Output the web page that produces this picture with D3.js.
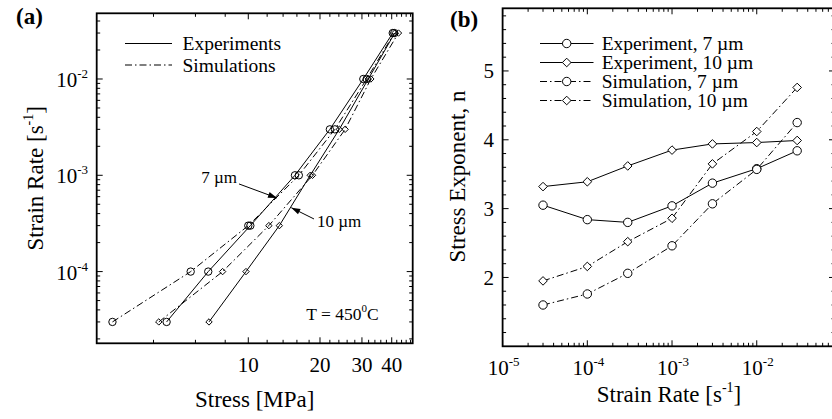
<!DOCTYPE html>
<html>
<head>
<meta charset="utf-8">
<script src="https://cdn.jsdelivr.net/npm/d3@7"></script>
<style>
  body { margin: 0; background: #fff; }
  svg { display: block; font-family: "Liberation Serif", "Times New Roman", serif; }
</style>
</head>
<body>
<svg id="chart" width="832" height="419"></svg>
<script>
// strain rates shared by both panels
const strainRates = [3e-5, 1e-4, 3e-4, 1e-3, 3e-3, 1e-2, 3e-2]

// panel (a): stress [MPa] at each strain rate
const expStress7 = [4.54, 6.79, 10.2, 15.7, 22.0, 30.4, 40.4]
const expStress10 = [6.84, 9.78, 13.5, 18.2, 24.1, 31.9, 41.2]
const simStress7 = [2.69, 5.73, 10.0, 16.3, 23.1, 31.4, 41.0]
const simStress10 = [4.21, 7.8, 12.2, 18.6, 25.5, 32.7, 42.7]

// panel (b): stress exponent n
const expN7 = [3.05, 2.84, 2.80, 3.04, 3.37, 3.58, 3.84]
const expN10 = [3.32, 3.39, 3.62, 3.85, 3.94, 3.96, 3.99]
const simN7 = [1.60, 1.76, 2.06, 2.46, 3.07, 3.57, 4.25]
const simN10 = [1.95, 2.16, 2.52, 2.86, 3.65, 4.12, 4.76]

// ticks
const stressMajor = [10, 20, 30, 40]
const stressMinor = d3.range(4, 50, 2).filter(d => !stressMajor.includes(d))
const rateMajorA = [-4, -3, -2]
const rateMajorB = [-5, -4, -3, -2]
const nMajor = [2, 3, 4, 5]

const legendA = ['Experiments', 'Simulations']
const legendB = ['Experiment, 7 \u00b5m', 'Experiment, 10 \u00b5m', 'Simulation, 7 \u00b5m', 'Simulation, 10 \u00b5m']

const svg = d3.select('#chart')
const dashDot = '7,3,1.5,3'
const fontTick = 21
const fontTitle = 23

function logMinors(lo, hi) {
    const out = []
    for (let e = -6; e <= 0; ++e) {
        for (let k = 2; k <= 9; ++k) {
            const v = k * Math.pow(10, e)
            if (v > lo && v < hi) out.push(v)
        }
    }
    return out
}

// draws inward ticks on all four sides
function frameTicks(g, x, y, xMaj, xMin, yMaj, yMin) {
    const [x0, x1] = x.range()
    const [y0, y1] = y.range() // y0 bottom, y1 top
    const big = 6, small = 3.5
    const ticks = g.append('g').attr('stroke', '#000').attr('stroke-width', 1)
    xMaj.concat(xMin).forEach(v => {
        const len = xMaj.includes(v) ? big : small
        ticks.append('line').attr('x1', x(v)).attr('x2', x(v)).attr('y1', y0).attr('y2', y0 - len)
        ticks.append('line').attr('x1', x(v)).attr('x2', x(v)).attr('y1', y1).attr('y2', y1 + len)
    })
    yMaj.concat(yMin).forEach(v => {
        const len = yMaj.includes(v) ? big : small
        ticks.append('line').attr('y1', y(v)).attr('y2', y(v)).attr('x1', x0).attr('x2', x0 + len)
        ticks.append('line').attr('y1', y(v)).attr('y2', y(v)).attr('x1', x1).attr('x2', x1 - len)
    })
    g.append('rect')
        .attr('x', x0).attr('y', y1)
        .attr('width', x1 - x0).attr('height', y0 - y1)
        .attr('fill', 'none').attr('stroke', '#000').attr('stroke-width', 1.8)
}

function powLabel(sel, exp) {
    sel.append('tspan').text('10')
    sel.append('tspan').attr('font-size', 13).attr('dy', -9).text(exp)
}

function diamondPath(r) {
    return `M0,${-r}L${r},0L0,${r}L${-r},0Z`
}

function drawMarker(g, shape, cx, cy, r, fill) {
    if (shape === 'circle') {
        g.append('circle').attr('cx', cx).attr('cy', cy).attr('r', r)
            .attr('fill', fill).attr('stroke', '#000').attr('stroke-width', 1)
    } else {
        g.append('path').attr('d', diamondPath(r + 0.6))
            .attr('transform', `translate(${cx},${cy})`)
            .attr('fill', fill).attr('stroke', '#000').attr('stroke-width', 1)
    }
}

function arrow(g, xa, ya, xb, yb) {
    g.append('line').attr('x1', xa).attr('y1', ya).attr('x2', xb).attr('y2', yb)
        .attr('stroke', '#000').attr('stroke-width', 1)
    const ang = Math.atan2(yb - ya, xb - xa)
    const L = 9, W = 3
    const bx = xb - L * Math.cos(ang), by = yb - L * Math.sin(ang)
    const px = -Math.sin(ang) * W, py = Math.cos(ang) * W
    g.append('path')
        .attr('d', `M${xb},${yb}L${bx + px},${by + py}L${bx - px},${by - py}Z`)
        .attr('fill', '#000')
}

// ---------------- panel (a) ----------------
const xA = d3.scaleLog().domain([2.31, 49]).range([96.7, 412.7])
const yA = d3.scaleLog().domain([1.8e-5, 0.0481]).range([343.3, 13.3])
const gA = svg.append('g')

frameTicks(gA, xA, yA, stressMajor, stressMinor,
    rateMajorA.map(e => Math.pow(10, e)), logMinors(1.8e-5, 0.0481))

stressMajor.forEach(v => {
    gA.append('text').attr('x', xA(v)).attr('y', 371.7)
        .attr('text-anchor', 'middle').attr('font-size', fontTick).text(v)
})
rateMajorA.forEach(e => {
    const t = gA.append('text').attr('x', 88).attr('y', yA(Math.pow(10, e)) + 8)
        .attr('text-anchor', 'end').attr('font-size', fontTick)
    powLabel(t, String(e))
})

const seriesA = [
    { s: expStress7, shape: 'circle', dash: null },
    { s: expStress10, shape: 'diamond', dash: null },
    { s: simStress7, shape: 'circle', dash: dashDot },
    { s: simStress10, shape: 'diamond', dash: dashDot }
]
const lineA = d3.line().x(d => xA(d[0])).y(d => yA(d[1]))
seriesA.forEach(ser => {
    const pts = ser.s.map((v, i) => [v, strainRates[i]])
    gA.append('path').attr('d', lineA(pts)).attr('fill', 'none')
        .attr('stroke', '#000').attr('stroke-width', 1)
        .attr('stroke-dasharray', ser.dash)
    pts.forEach(p => drawMarker(gA, ser.shape, xA(p[0]), yA(p[1]), ser.shape === 'circle' ? 3.7 : 2.6, 'none'))
})

// legend (a)
legendA.forEach((lab, i) => {
    const ly = 43.5 + i * 21.5
    gA.append('line').attr('x1', 125).attr('x2', 172).attr('y1', ly).attr('y2', ly)
        .attr('stroke', '#000').attr('stroke-width', 1.2)
        .attr('stroke-dasharray', i === 0 ? null : dashDot)
    gA.append('text').attr('x', 182.5).attr('y', ly + 6.5).attr('font-size', 19.5).text(lab)
})

// annotations (a)
arrow(gA, xA(9.14), yA(8.13e-4), xA(13.2), yA(5.81e-4))
gA.append('text').attr('x', xA(9.14) - 2).attr('y', yA(8.13e-4) - 0.5)
    .attr('text-anchor', 'end').attr('font-size', 17).text('7 \u00b5m')
arrow(gA, xA(18.87), yA(3.52e-4), xA(15.15), yA(4.61e-4))
gA.append('text').attr('x', xA(18.87) + 3).attr('y', yA(3.52e-4) + 8.5)
    .attr('font-size', 17).text('10 \u00b5m')
const tTxt = gA.append('text').attr('x', xA(17.5)).attr('y', yA(3.14e-5)).attr('font-size', 17.5)
tTxt.append('tspan').text('T = 450')
tTxt.append('tspan').attr('font-size', 11).attr('dy', -8).text('0')
tTxt.append('tspan').attr('dy', 8).text('C')

gA.append('text').attr('x', 254.7).attr('y', 407).attr('text-anchor', 'middle')
    .attr('font-size', fontTitle).text('Stress [MPa]')
const yTitleA = gA.append('text')
    .attr('transform', `translate(42.5,178.3) rotate(-90)`)
    .attr('text-anchor', 'middle').attr('font-size', fontTitle)
yTitleA.append('tspan').text('Strain Rate [s')
yTitleA.append('tspan').attr('font-size', 14).attr('dy', -10).text('-1')
yTitleA.append('tspan').attr('dy', 10).text(']')

gA.append('text').attr('x', 16).attr('y', 24).attr('font-size', 23)
    .attr('font-weight', 'bold').text('(a)')

// ---------------- panel (b) ----------------
const xB = d3.scaleLog().domain([1e-5, 0.0839]).range([502.6, 835])
const yB = d3.scaleLinear().domain([1, 5.91]).range([346.3, 8.3])
const gB = svg.append('g')

const nMinor = d3.range(1.2, 5.9, 0.2).map(d => +d.toFixed(1)).filter(d => !nMajor.includes(d) && d !== 1)
frameTicks(gB, xB, yB, rateMajorB.map(e => Math.pow(10, e)), logMinors(1e-5, 0.0839), nMajor, nMinor)

rateMajorB.forEach(e => {
    const t = gB.append('text').attr('x', xB(Math.pow(10, e)) + 1).attr('y', 375)
        .attr('text-anchor', 'middle').attr('font-size', fontTick)
    powLabel(t, String(e))
})
nMajor.forEach(v => {
    gB.append('text').attr('x', 494).attr('y', yB(v) + 7.3)
        .attr('text-anchor', 'end').attr('font-size', fontTick).text(v)
})

const seriesB = [
    { s: expN7, shape: 'circle', dash: null },
    { s: expN10, shape: 'diamond', dash: null },
    { s: simN7, shape: 'circle', dash: dashDot },
    { s: simN10, shape: 'diamond', dash: dashDot }
]
const lineB = d3.line().x(d => xB(d[0])).y(d => yB(d[1]))
seriesB.forEach(ser => {
    const pts = strainRates.map((r, i) => [r, ser.s[i]])
    gB.append('path').attr('d', lineB(pts)).attr('fill', 'none')
        .attr('stroke', '#000').attr('stroke-width', 1)
        .attr('stroke-dasharray', ser.dash)
})
seriesB.forEach(ser => {
    strainRates.forEach((r, i) => drawMarker(gB, ser.shape, xB(r), yB(ser.s[i]), ser.shape === 'circle' ? 4.2 : 3.7, '#fff'))
})

// legend (b)
legendB.forEach((lab, i) => {
    const ly = 43.5 + i * 19
    const ser = seriesB[i]
    gB.append('line').attr('x1', 540).attr('x2', 593.5).attr('y1', ly).attr('y2', ly)
        .attr('stroke', '#000').attr('stroke-width', 1)
        .attr('stroke-dasharray', ser.dash)
    drawMarker(gB, ser.shape, 566.7, ly, ser.shape === 'circle' ? 4.2 : 3.7, '#fff')
    gB.append('text').attr('x', 601.7).attr('y', ly + 6.5).attr('font-size', 19.5).text(lab)
})

const xTitleB = gB.append('text').attr('x', 669).attr('y', 401.7)
    .attr('text-anchor', 'middle').attr('font-size', fontTitle)
xTitleB.append('tspan').text('Strain Rate [s')
xTitleB.append('tspan').attr('font-size', 14).attr('dy', -10).text('-1')
xTitleB.append('tspan').attr('dy', 10).text(']')

gB.append('text')
    .attr('transform', `translate(465,176.5) rotate(-90)`)
    .attr('text-anchor', 'middle').attr('font-size', fontTitle)
    .text('Stress Exponent, n')

gB.append('text').attr('x', 450).attr('y', 27).attr('font-size', 23)
    .attr('font-weight', 'bold').text('(b)')
</script>
</body>
</html>
